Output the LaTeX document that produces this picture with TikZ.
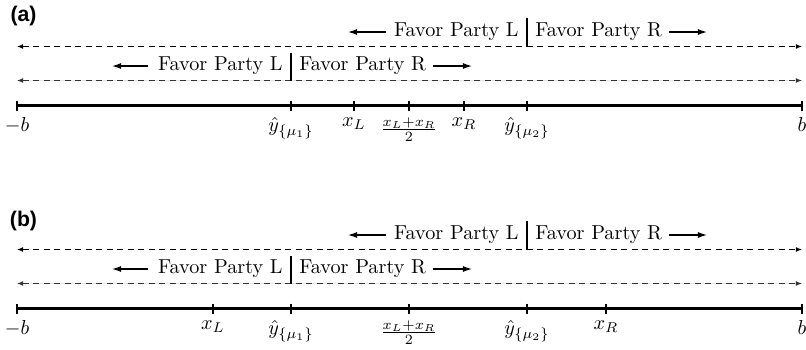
\documentclass[tikz,border=0pt]{standalone}
\usepackage{fontspec}
\newfontfamily\panelfont{Liberation Sans}
\usetikzlibrary{arrows.meta}
\tikzset{
  axisline/.style={line width=1.1pt},
  tickline/.style={line width=0.6pt},
  dashline/.style={line width=0.5pt, dash pattern=on 3pt off 2.2pt,
    {Latex[length=3pt,width=2.4pt]}-{Latex[length=3pt,width=2.4pt]}},
  favor/.style={inner sep=0pt, font=\fontsize{10}{12}\selectfont},
  dirarrow/.style={line width=0.6pt, -{Latex[length=4.5pt,width=3pt]}},
  divider/.style={line width=0.6pt},
  ticklabel/.style={anchor=north},
  panellabel/.style={font=\panelfont\bfseries\fontsize{10.5}{12}\selectfont, inner sep=0pt},
}
\begin{document}
\begin{tikzpicture}[x=0.495pt,y=-0.495pt]
\useasboundingbox (0,0) rectangle (806,349);

% ---------------- panel (a) ----------------
\begin{scope}
\node[panellabel] (pa) at (23.5,16) {(a)};
% dashed double arrows
\coordinate (a-d1l) at (17,46.5); \coordinate (a-d1r) at (802,46.5);
\coordinate (a-d2l) at (17,80.5); \coordinate (a-d2r) at (802,80.5);
\draw[dashline] (a-d1l) -- (a-d1r);
\draw[dashline, draw=black!80, fill=black!80] (a-d2l) -- (a-d2r);
% upper row
\coordinate (a-b1t) at (527,18); \coordinate (a-b1b) at (527,46.5);
\draw[divider] (a-b1t) -- (a-b1b);
\node[favor, anchor=east] (a-uL) at (519,32) {Favor Party L};
\node[favor, anchor=west] (a-uR) at (535,32) {Favor Party R};
\coordinate (a-uLa) at (348,32); \coordinate (a-uRa) at (707,32);
\draw[dirarrow] ([xshift=-4pt]a-uL.west) -- (a-uLa);
\draw[dirarrow] ([xshift=3pt]a-uR.east) -- (a-uRa);
% lower row
\coordinate (a-b2t) at (291,53); \coordinate (a-b2b) at (291,80.5);
\draw[divider] (a-b2t) -- (a-b2b);
\node[favor, anchor=east] (a-lL) at (283,66) {Favor Party L};
\node[favor, anchor=west] (a-lR) at (299,66) {Favor Party R};
\coordinate (a-lLa) at (112,66); \coordinate (a-lRa) at (472,66);
\draw[dirarrow] ([xshift=-5pt]a-lL.west) -- (a-lLa);
\draw[dirarrow] ([xshift=3pt]a-lR.east) -- (a-lRa);
% axis
\coordinate (a-axl) at (17,105.5); \coordinate (a-axr) at (802,105.5);
\draw[axisline] (a-axl) -- (a-axr);
\foreach \x/\n/\t in {17/mb/{$-b$}, 291/y1/{$\hat{y}_{\{\mu_1\}}$}, 354/xl/{$x_L$},
                      409/mid/{$\frac{x_L+x_R}{2}$}, 464/xr/{$x_R$},
                      527/y2/{$\hat{y}_{\{\mu_2\}}$}, 802/b/{$b$}}{
  \coordinate (a-t\n t) at (\x,100.5);
  \coordinate (a-t\n b) at (\x,110.5);
  \draw[tickline] (a-t\n t) -- (a-t\n b);
  \node[ticklabel] (a-l\n) at (a-t\n b) {\t};
}
\end{scope}

% ---------------- panel (b) ----------------
\begin{scope}[shift={(0,203)}]
\node[panellabel] (pb) at (23.5,18) {(b)};
\coordinate (b-d1l) at (17,46.5); \coordinate (b-d1r) at (802,46.5);
\coordinate (b-d2l) at (17,80.5); \coordinate (b-d2r) at (802,80.5);
\draw[dashline] (b-d1l) -- (b-d1r);
\draw[dashline, draw=black!80, fill=black!80] (b-d2l) -- (b-d2r);
\coordinate (b-b1t) at (527,18); \coordinate (b-b1b) at (527,46.5);
\draw[divider] (b-b1t) -- (b-b1b);
\node[favor, anchor=east] (b-uL) at (519,32) {Favor Party L};
\node[favor, anchor=west] (b-uR) at (535,32) {Favor Party R};
\coordinate (b-uLa) at (348,32); \coordinate (b-uRa) at (707,32);
\draw[dirarrow] ([xshift=-4pt]b-uL.west) -- (b-uLa);
\draw[dirarrow] ([xshift=3pt]b-uR.east) -- (b-uRa);
\coordinate (b-b2t) at (291,53); \coordinate (b-b2b) at (291,80.5);
\draw[divider] (b-b2t) -- (b-b2b);
\node[favor, anchor=east] (b-lL) at (283,66) {Favor Party L};
\node[favor, anchor=west] (b-lR) at (299,66) {Favor Party R};
\coordinate (b-lLa) at (112,66); \coordinate (b-lRa) at (472,66);
\draw[dirarrow] ([xshift=-5pt]b-lL.west) -- (b-lLa);
\draw[dirarrow] ([xshift=3pt]b-lR.east) -- (b-lRa);
\coordinate (b-axl) at (17,105.5); \coordinate (b-axr) at (802,105.5);
\draw[axisline] (b-axl) -- (b-axr);
\foreach \x/\n/\t in {17/mb/{$-b$}, 213/xl/{$x_L$}, 291/y1/{$\hat{y}_{\{\mu_1\}}$},
                      409/mid/{$\frac{x_L+x_R}{2}$},
                      527/y2/{$\hat{y}_{\{\mu_2\}}$}, 606/xr/{$x_R$}, 802/b/{$b$}}{
  \coordinate (b-t\n t) at (\x,100.5);
  \coordinate (b-t\n b) at (\x,110.5);
  \draw[tickline] (b-t\n t) -- (b-t\n b);
  \node[ticklabel] (b-l\n) at (b-t\n b) {\t};
}
\end{scope}
\end{tikzpicture}
\end{document}
